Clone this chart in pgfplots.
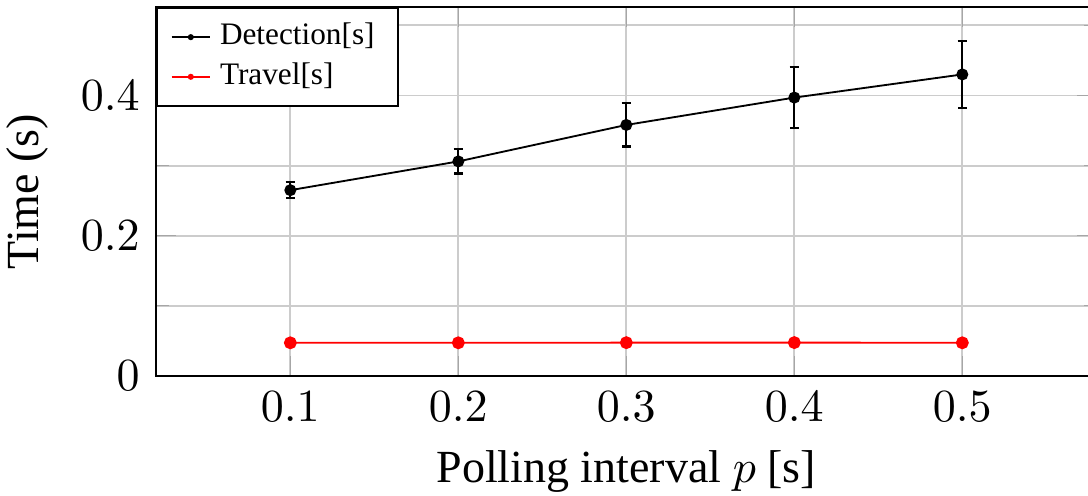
\documentclass[border=0pt]{standalone}
\usepackage{fontspec}
\setmainfont{Liberation Serif}
\usepackage{pgfplots}
\pgfplotsset{compat=1.18}
\begin{document}
\begin{tikzpicture}
\begin{axis}[
  scale only axis,
  width=204.5pt, height=80.2pt,
  xmin=0.02, xmax=0.58, ymin=0, ymax=0.526,
  xtick={0.1,0.2,0.3,0.4,0.5},
  ytick={0,0.2,0.4},
  minor ytick={0.1,0.3,0.5},
  xmajorgrids, ymajorgrids, yminorgrids,
  grid style={line width=0.4pt, gray!40},
  minor grid style={line width=0.4pt, gray!40},
  tick style={gray!70},
  axis line style={black, line width=0.45pt},
  tick label style={font=\fontsize{10.4}{12}\selectfont},
  xlabel={Polling interval $p$ [s]},
  ylabel={Time (s)},
  label style={font=\fontsize{10.2}{12}\selectfont},
  every axis y label/.style={at={(axis description cs:-0.1371,0.5)}, rotate=90, anchor=center},
  every axis x label/.style={at={(axis description cs:0.5,-0.2873)}, anchor=base},
  legend style={at={(0,1)}, anchor=north west, font=\fontsize{6.8}{8}\selectfont,
    draw=black, line width=0.45pt, inner xsep=3pt, inner ysep=1.2pt, row sep=-1.6pt},
  legend cell align=left,
  legend image code/.code={\draw[#1, mark repeat=2, mark phase=2, mark size=0.45pt, line width=0.4pt] plot coordinates {(0pt,0pt)(4.15pt,0pt)(8.3pt,0pt)};},
]
\addplot+[black, mark=*, mark size=1.1pt, line width=0.4pt, mark options={black},
  error bars/.cd, y dir=both, y explicit,
  error mark=-,
  error mark options={rotate=90, black, mark size=1pt, line width=0.55pt},
  error bar style={black, line width=0.45pt}]
  coordinates {
  (0.1,0.265) +- (0,0.0114)
  (0.2,0.306) +- (0,0.0175)
  (0.3,0.358) +- (0,0.031)
  (0.4,0.397) +- (0,0.0435)
  (0.5,0.430) +- (0,0.048)
};
\addlegendentry{Detection[s]}
\addplot+[red, mark=*, mark size=1.2pt, line width=0.4pt, mark options={red}]
  coordinates {
  (0.1,0.0474) (0.2,0.0474) (0.3,0.0476) (0.4,0.0477) (0.5,0.0474)
};
\addlegendentry{Travel[s]}
\end{axis}
\pgfresetboundingbox
\path[use as bounding box] ([xshift=-33.9pt,yshift=-25.87pt]current axis.south west) rectangle ([xshift=202.6pt,yshift=81.74pt]current axis.south west);
\end{tikzpicture}
\end{document}
